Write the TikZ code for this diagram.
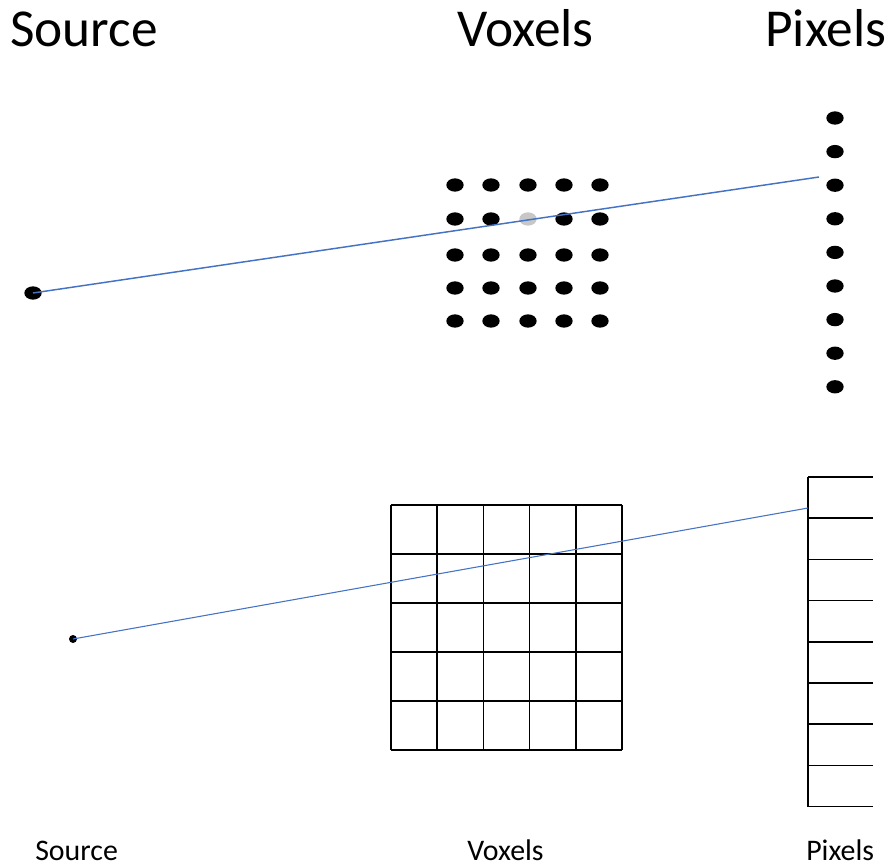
\documentclass[tikz,border=0pt]{standalone}
\usepackage{fontspec}
\setmainfont{Carlito}
\usetikzlibrary{shapes.geometric}
\definecolor{rayblue}{HTML}{4472C4}
\tikzset{
  dot/.style={ellipse,fill=black,draw=none,minimum width=13pt,minimum height=10pt,inner sep=0pt},
  greydot/.style={dot,fill=black!22},
  srcdot/.style={circle,fill=black,inner sep=0pt,minimum size=6pt},
  ray/.style={draw=rayblue,line width=1.1pt},
  thinray/.style={draw=rayblue,line width=0.8pt},
  gridline/.style={draw=black,line width=1.1pt},
  biglabel/.style={anchor=base west,inner sep=0pt,font=\fontsize{40}{44}\selectfont},
  smalllabel/.style={anchor=base west,inner sep=0pt,font=\fontsize{22.4}{26}\selectfont}
}
\begin{document}
\begin{tikzpicture}[x=0.75pt,y=-0.75pt]
\useasboundingbox (0,0) rectangle (888,867);
% top labels
\node[biglabel] (tsrc) at (10,47) {Source};
\node[biglabel] (tvox) at (457,47) {Voxels};
\node[biglabel] (tpix) at (765,47) {Pixels};
% top source
\node[dot] (s1) at (33,293) {};
% voxel dots
\foreach \c/\x in {1/455,2/491,3/528,4/564,5/600}{
  \foreach \r/\y in {1/185,2/219,3/255,4/288,5/321}{
    \ifnum\c=3 \ifnum\r=2
      \node[greydot] (v\c\r) at (\x,\y) {};
    \else
      \node[dot] (v\c\r) at (\x,\y) {};
    \fi\else
      \node[dot] (v\c\r) at (\x,\y) {};
    \fi
  }
}
% pixel dots
\foreach \i in {0,...,8}{
  \node[dot] (p\i) at (835,{118+33.6*\i}) {};
}
\coordinate (e1) at (819,177);
\draw[ray] (s1.center) -- (e1);
% bottom grid
\foreach \i in {0,...,5}{
  \coordinate (gx\i) at ({391+46.2*\i},505);
  \coordinate (gxb\i) at ({391+46.2*\i},750);
  \draw[gridline] (gx\i) -- (gxb\i);
}
\foreach \j in {0,...,5}{
  \coordinate (gy\j) at (391,{505+49*\j});
  \coordinate (gyr\j) at (622,{505+49*\j});
  \draw[gridline] (gy\j) -- (gyr\j);
}
% bottom pixel column
\coordinate (pt) at (808,477);
\coordinate (pb) at (808,807);
\draw[gridline] (pt) -- (pb);
\foreach \k in {0,...,8}{
  \coordinate (ph\k) at (808,{477+41.2*\k});
  \coordinate (phr\k) at (873,{477+41.2*\k});
  \draw[gridline] (ph\k) -- (phr\k);
}
% bottom source
\node[srcdot] (s2) at (73,639) {};
\coordinate (e2) at (808,508);
\draw[thinray] (s2.center) -- (e2);
% bottom labels
\node[smalllabel] (bsrc) at (35,860) {Source};
\node[smalllabel] (bvox) at (467,860) {Voxels};
\node[smalllabel] (bpix) at (806,860) {Pixels};
\end{tikzpicture}
\end{document}
